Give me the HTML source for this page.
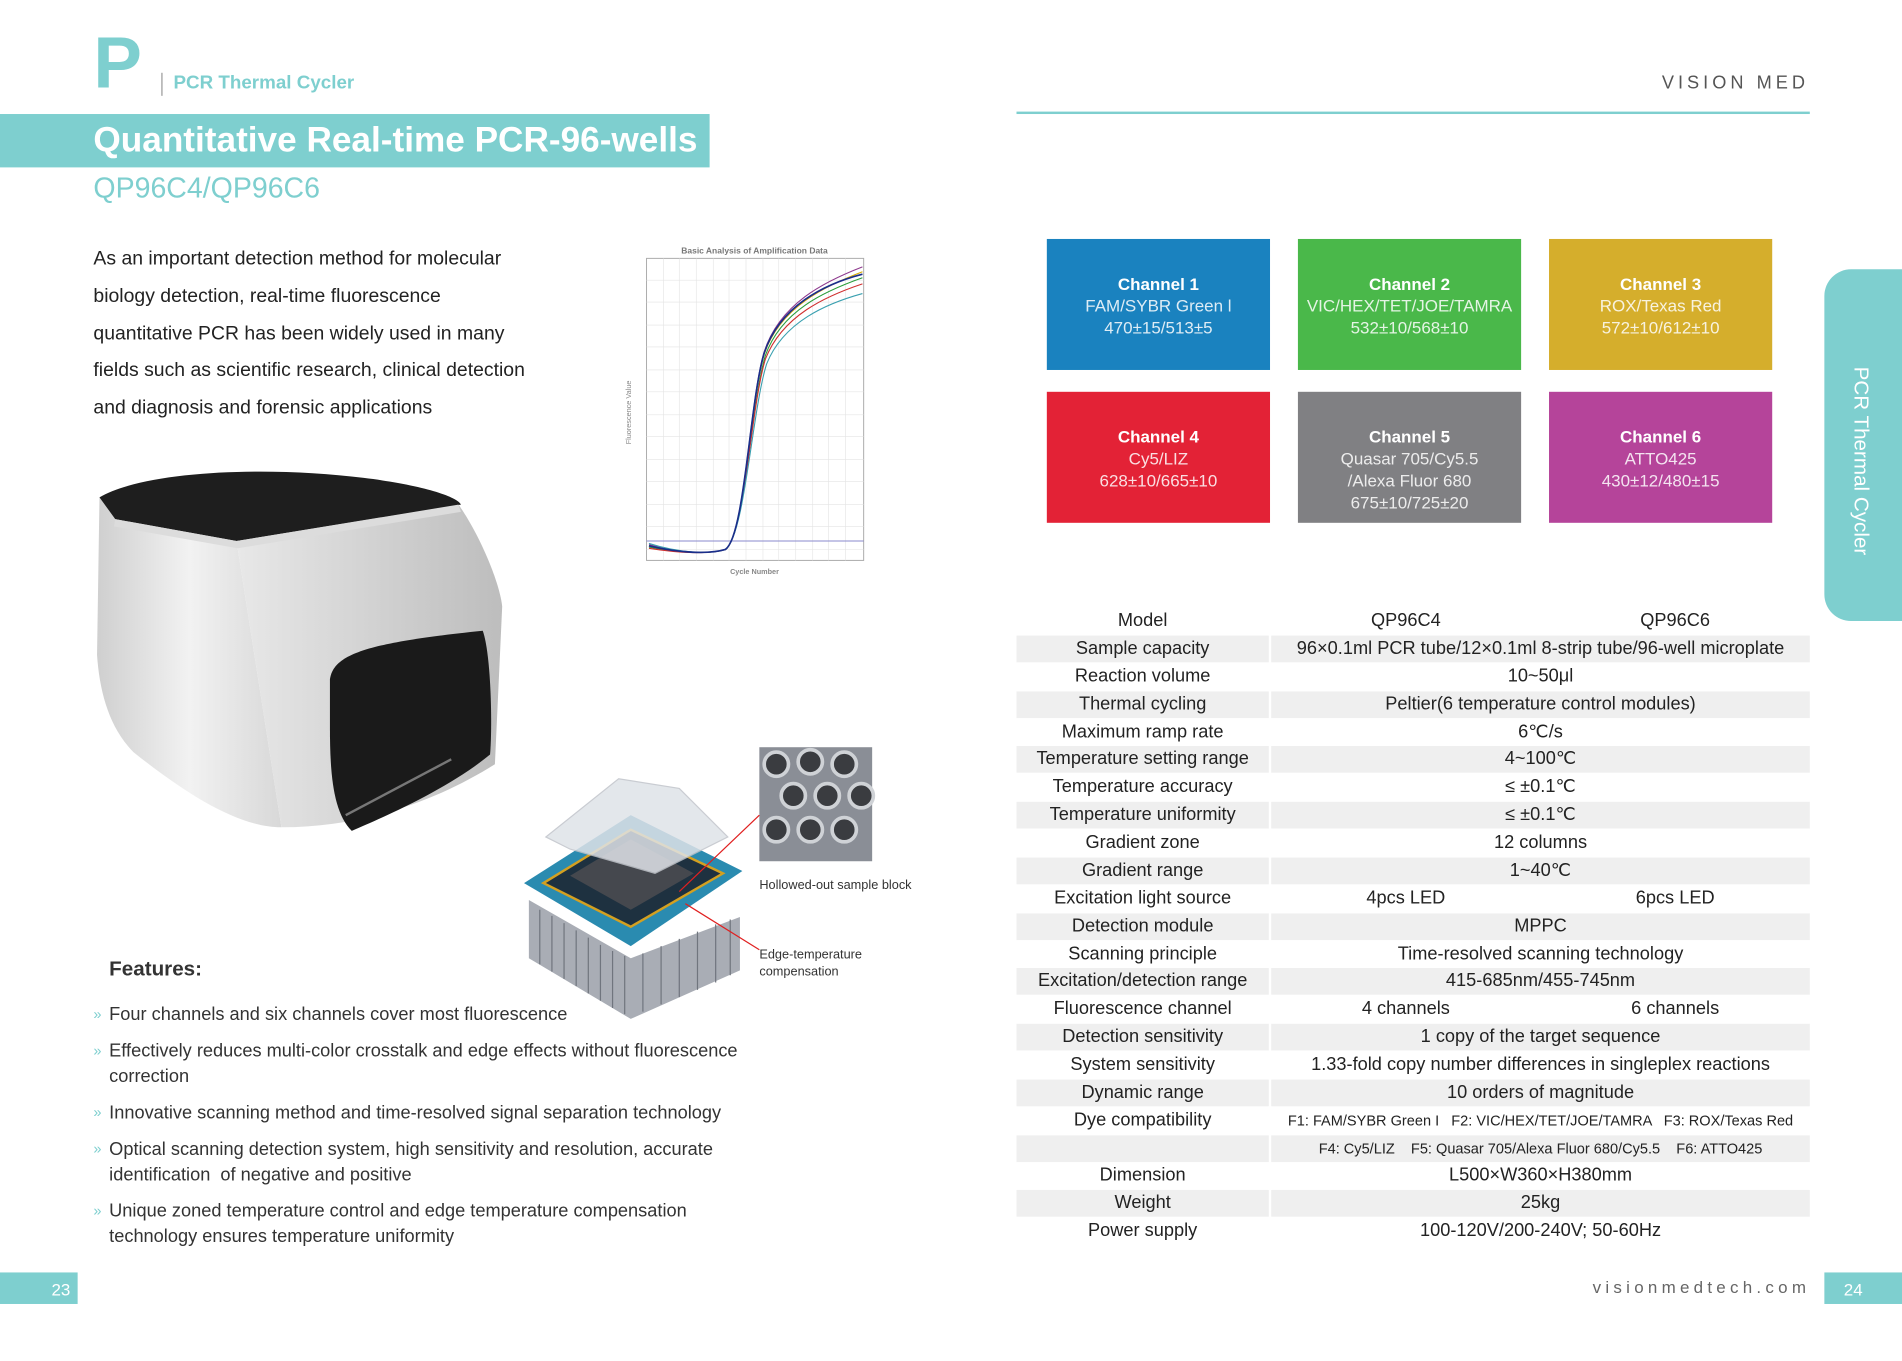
<!DOCTYPE html>
<html><head><meta charset="utf-8"><style>
html,body{margin:0;padding:0;background:#fff;width:1902px;height:1361px;overflow:hidden}
#w{position:absolute;left:0;top:0;width:1568px;height:1122px;transform:scale(1.21301);transform-origin:0 0;font-family:"Liberation Sans",sans-serif;color:#333}
.a{position:absolute;white-space:nowrap}
.ch{position:absolute;width:184px;height:108px;color:#fff;text-align:center;font-size:14px;line-height:18px;box-sizing:border-box;padding-top:28px}
.ch b{display:block;font-size:14px}
.ch span{opacity:.85}
.r{position:absolute;left:838px;width:654px;height:22px;font-size:15px;color:#222;line-height:22px}
.r.s .c1,.r.s .c2{background:#efefef}
.c1{position:absolute;left:0;width:208px;height:22px;text-align:center}
.c2{position:absolute;left:210px;width:444px;height:22px;text-align:center}
.c3{position:absolute;left:210px;width:222px;text-align:center}
.c4{position:absolute;left:432px;width:222px;text-align:center}
.b{position:absolute;left:77px;font-size:15px;line-height:21px;color:#333}
.b i{font-style:normal;color:#7ecfcf;position:absolute;left:0;font-size:12px}
.b div{margin-left:13px}
</style></head><body><div id="w">
<div class="a" style="left:77px;top:22px;font-size:60px;font-weight:bold;color:#7ecfcf;line-height:60px">P</div>
<div class="a" style="left:133px;top:60px;width:1px;height:19px;background:#999"></div>
<div class="a" style="left:143px;top:60px;font-size:15.5px;font-weight:bold;color:#7ecfcf">PCR Thermal Cycler</div>
<div class="a" style="left:0;top:94px;width:585px;height:44px;background:#7ecfcf"></div>
<div class="a" style="left:77px;top:98px;font-size:29px;font-weight:bold;color:#fff;line-height:36px">Quantitative Real-time PCR-96-wells</div>
<div class="a" style="left:77px;top:140px;font-size:23.5px;color:#7ecfcf;line-height:30px">QP96C4/QP96C6</div>
<div class="a" style="left:1370px;top:60px;font-size:15px;letter-spacing:3.3px;color:#555">VISION MED</div>
<div class="a" style="left:838px;top:92px;width:654px;height:2px;background:#7ecfcf"></div>
<div class="a" style="left:77px;top:199px;font-size:16px;line-height:30.8px;color:#222">As an important detection method for molecular<br>biology detection, real-time fluorescence<br>quantitative PCR has been widely used in many<br>fields such as scientific research, clinical detection<br>and diagnosis and forensic applications</div>

<svg class="a" style="left:505px;top:198px" width="215" height="282" viewBox="505 198 215 282">
<text x="622" y="209" font-size="7" fill="#777" text-anchor="middle" font-weight="bold" font-family="Liberation Sans">Basic Analysis of Amplification Data</text>
<rect x="533" y="213" width="179" height="249" fill="#fff" stroke="#aaa" stroke-width="0.8"/>
<g stroke="#e4e4e4" stroke-width="0.5">
<path d="M547,213V462M560,213V462M574,213V462M588,213V462M601,213V462M615,213V462M629,213V462M642,213V462M656,213V462M670,213V462M683,213V462M697,213V462"/>
<path d="M533,231H712M533,249H712M533,268H712M533,286H712M533,305H712M533,323H712M533,342H712M533,360H712M533,379H712M533,397H712M533,416H712M533,434H712M533,453H712"/>
</g>
<line x1="533" y1="446" x2="712" y2="446" stroke="#8a8acc" stroke-width="0.8"/>
<g fill="none" stroke-width="0.9">
<path d="M535,449C560,456 585,457 598,453C614,442 618,330 630,290C643,250 680,232 711,220" stroke="#8e3a8e"/>
<path d="M535,450C560,456 585,457 598,453C614,442 618,332 630,292C643,253 680,236 711,224" stroke="#d9a800"/>
<path d="M535,451C560,456 585,457 598,453C614,442 619,333 631,293C644,256 680,240 711,229" stroke="#2a9d3a"/>
<path d="M535,452C560,456 585,457 598,453C614,442 619,335 631,296C645,260 681,244 711,234" stroke="#d03030"/>
<path d="M535,448C560,456 585,457 598,453C614,442 620,338 632,300C646,265 682,250 711,242" stroke="#3aa0b0"/>
<path d="M535,450C560,456 585,457 598,453C614,442 618,331 630,291C643,252 680,234 711,226" stroke="#1a2e8a" stroke-width="1.4"/>
</g>
<text x="520" y="340" font-size="6" fill="#888" transform="rotate(-90 520 340)" text-anchor="middle" font-family="Liberation Sans">Fluorescence Value</text>
<text x="622" y="473" font-size="6" fill="#888" text-anchor="middle" font-weight="bold" font-family="Liberation Sans">Cycle Number</text>
</svg>

<svg class="a" style="left:70px;top:380px" width="360" height="310" viewBox="70 380 360 310">
<defs><linearGradient id="g1" x1="0" x2="1"><stop offset="0" stop-color="#cfcfcf"/><stop offset=".5" stop-color="#f2f2f2"/><stop offset="1" stop-color="#d8d8d8"/></linearGradient>
<linearGradient id="g2" x1="0" x2="1"><stop offset="0" stop-color="#e8e8e8"/><stop offset="1" stop-color="#bdbdbd"/></linearGradient></defs>
<path d="M82,410 L95,428 L195,446 L232,682 C200,682 160,660 110,620 C90,600 82,570 80,540 Z" fill="url(#g1)"/>
<path d="M195,446 L378,416 C395,440 412,480 414,500 L408,630 C360,660 300,682 232,682 Z" fill="url(#g2)"/>
<path d="M82,410 C120,388 220,384 300,394 C350,400 378,410 380,416 L195,446 L95,428 Z" fill="#1e1e1e"/>
<path d="M95,428 L195,446 L378,416 L380,422 L196,452 L94,434 Z" fill="#dcdcdc"/>
<path d="M272,560 C275,540 300,530 398,520 C405,540 406,600 404,622 C370,650 320,672 290,685 C275,670 272,640 272,600 Z" fill="#1a1a1a"/>
<path d="M285,672 L372,626" stroke="#777" stroke-width="2"/>
</svg>

<svg class="a" style="left:428px;top:612px" width="300" height="232" viewBox="428 612 300 232">
<path d="M436,742 L520,790 L610,756 L610,800 L520,840 L436,790 Z" fill="#a9adb5"/>
<g stroke="#70757e" stroke-width="1"><path d="M445,750V795M455,755V801M465,761V807M475,767V813M485,773V819M495,779V825M505,784V831M515,788V836M530,786V834M545,780V828M560,774V822M575,768V816M590,762V810M602,758V804"/></g>
<path d="M432,728 L520,672 L612,718 L520,780 Z" fill="#2a8bb0"/>
<path d="M448,728 L520,684 L596,720 L520,764 Z" fill="#1e3140" stroke="#d4a020" stroke-width="2"/>
<path d="M470,722 L520,692 L572,720 L520,750 Z" fill="#45484e"/>
<path d="M450,690 L510,642 L560,650 L600,690 L540,720 L470,700 Z" fill="#dfe3e8" opacity=".85" stroke="#c0c4ca"/>
<rect x="626" y="616" width="93" height="94" fill="#8a8e96"/>
<g fill="#3a3c40" stroke="#cfd2d6" stroke-width="3">
<circle cx="640" cy="630" r="10"/><circle cx="668" cy="628" r="10"/><circle cx="696" cy="630" r="10"/>
<circle cx="654" cy="656" r="10"/><circle cx="682" cy="656" r="10"/><circle cx="710" cy="656" r="10"/>
<circle cx="640" cy="684" r="10"/><circle cx="668" cy="684" r="10"/><circle cx="696" cy="684" r="10"/>
</g>
<path d="M560,735 L626,672 M565,745 L626,783" stroke="#e02020" stroke-width="1"/>
</svg>
<div class="a" style="left:626px;top:724px;font-size:10.5px;color:#333">Hollowed-out sample block</div>
<div class="a" style="left:626px;top:780px;font-size:10.5px;color:#333;line-height:14px">Edge-temperature<br>compensation</div>

<div class="a" style="left:90px;top:789px;font-size:17px;font-weight:bold;color:#333">Features:</div>
<div class="b" style="top:826px"><i>»</i><div>Four channels and six channels cover most fluorescence</div></div>
<div class="b" style="top:856px"><i>»</i><div>Effectively reduces multi-color crosstalk and edge effects without fluorescence<br>correction</div></div>
<div class="b" style="top:907px"><i>»</i><div>Innovative scanning method and time-resolved signal separation technology</div></div>
<div class="b" style="top:937px"><i>»</i><div>Optical scanning detection system, high sensitivity and resolution, accurate<br>identification &nbsp;of negative and positive</div></div>
<div class="b" style="top:988px"><i>»</i><div>Unique zoned temperature control and edge temperature compensation<br>technology ensures temperature uniformity</div></div>

<div class="a" style="left:0;top:1049px;width:64px;height:26px;background:#7ecfcf;color:#fff;font-size:14px;line-height:28px;text-align:right;box-sizing:border-box;padding-right:6px">23</div>
<div class="a" style="left:1504px;top:1049px;width:64px;height:26px;background:#7ecfcf;color:#fff;font-size:14px;line-height:28px;box-sizing:border-box;padding-left:16px">24</div>
<div class="a" style="left:1313px;top:1053px;font-size:14px;letter-spacing:3.5px;color:#666">visionmedtech.com</div>

<div class="a" style="left:1504px;top:222px;width:64px;height:290px;background:#7ecfcf;border-radius:22px 0 0 22px"></div>
<div class="a" style="left:1534px;top:380px;transform:translate(-50%,-50%) rotate(90deg);font-size:17px;color:#fff">PCR Thermal Cycler</div>

<div class="ch" style="left:863px;top:197px;background:#1a82bf"><b>Channel 1</b><span>FAM/SYBR Green l<br>470±15/513±5</span></div>
<div class="ch" style="left:1070px;top:197px;background:#4ab84a"><b>Channel 2</b><span>VIC/HEX/TET/JOE/TAMRA<br>532±10/568±10</span></div>
<div class="ch" style="left:1277px;top:197px;background:#d5ae2c"><b>Channel 3</b><span>ROX/Texas Red<br>572±10/612±10</span></div>
<div class="ch" style="left:863px;top:323px;background:#e32236"><b>Channel 4</b><span>Cy5/LIZ<br>628±10/665±10</span></div>
<div class="ch" style="left:1070px;top:323px;background:#808083"><b>Channel 5</b><span>Quasar 705/Cy5.5<br>/Alexa Fluor 680<br>675±10/725±20</span></div>
<div class="ch" style="left:1277px;top:323px;background:#b5449a"><b>Channel 6</b><span>ATTO425<br>430±12/480±15</span></div>

<div class="r" style="top:501px"><div class="c1">Model</div><div class="c3">QP96C4</div><div class="c4">QP96C6</div></div>
<div class="r s" style="top:524px"><div class="c1">Sample capacity</div><div class="c2">96×0.1ml PCR tube/12×0.1ml 8-strip tube/96-well microplate</div></div>
<div class="r" style="top:547px"><div class="c1">Reaction volume</div><div class="c2">10~50μl</div></div>
<div class="r s" style="top:570px"><div class="c1">Thermal cycling</div><div class="c2">Peltier(6 temperature control modules)</div></div>
<div class="r" style="top:593px"><div class="c1">Maximum ramp rate</div><div class="c2">6℃/s</div></div>
<div class="r s" style="top:615px"><div class="c1">Temperature setting range</div><div class="c2">4~100℃</div></div>
<div class="r" style="top:638px"><div class="c1">Temperature accuracy</div><div class="c2">≤ ±0.1℃</div></div>
<div class="r s" style="top:661px"><div class="c1">Temperature uniformity</div><div class="c2">≤ ±0.1℃</div></div>
<div class="r" style="top:684px"><div class="c1">Gradient zone</div><div class="c2">12 columns</div></div>
<div class="r s" style="top:707px"><div class="c1">Gradient range</div><div class="c2">1~40℃</div></div>
<div class="r" style="top:730px"><div class="c1">Excitation light source</div><div class="c3">4pcs LED</div><div class="c4">6pcs LED</div></div>
<div class="r s" style="top:753px"><div class="c1">Detection module</div><div class="c2">MPPC</div></div>
<div class="r" style="top:776px"><div class="c1">Scanning principle</div><div class="c2">Time-resolved scanning technology</div></div>
<div class="r s" style="top:798px"><div class="c1">Excitation/detection range</div><div class="c2">415-685nm/455-745nm</div></div>
<div class="r" style="top:821px"><div class="c1">Fluorescence channel</div><div class="c3">4 channels</div><div class="c4">6 channels</div></div>
<div class="r s" style="top:844px"><div class="c1">Detection sensitivity</div><div class="c2">1 copy of the target sequence</div></div>
<div class="r" style="top:867px"><div class="c1">System sensitivity</div><div class="c2">1.33-fold copy number differences in singleplex reactions</div></div>
<div class="r s" style="top:890px"><div class="c1">Dynamic range</div><div class="c2">10 orders of magnitude</div></div>
<div class="r" style="top:913px"><div class="c1">Dye compatibility</div><div class="c2" style="font-size:12px">F1: FAM/SYBR Green I &nbsp;&nbsp;F2: VIC/HEX/TET/JOE/TAMRA &nbsp;&nbsp;F3: ROX/Texas Red</div></div>
<div class="r s" style="top:936px"><div class="c1"></div><div class="c2" style="font-size:12px">F4: Cy5/LIZ &nbsp;&nbsp;&nbsp;F5: Quasar 705/Alexa Fluor 680/Cy5.5 &nbsp;&nbsp;&nbsp;F6: ATTO425</div></div>
<div class="r" style="top:958px"><div class="c1">Dimension</div><div class="c2">L500×W360×H380mm</div></div>
<div class="r s" style="top:981px"><div class="c1">Weight</div><div class="c2">25kg</div></div>
<div class="r" style="top:1004px"><div class="c1">Power supply</div><div class="c2">100-120V/200-240V; 50-60Hz</div></div>
</div></body></html>
